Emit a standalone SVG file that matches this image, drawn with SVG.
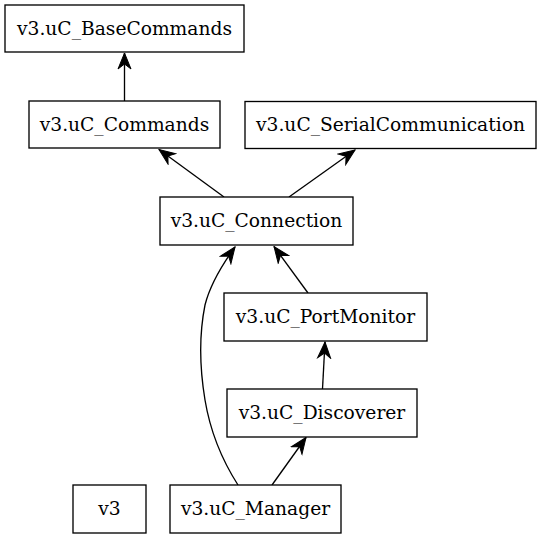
<svg xmlns="http://www.w3.org/2000/svg" width="541" height="539" viewBox="0 0 541 539">
<style>
.n rect{fill:#fff;stroke:#000;stroke-width:1.33}
.n text{font-family:"DejaVu Serif",serif;font-size:18.67px;text-anchor:middle;fill:#000}
#edges path{fill:none;stroke:#000;stroke-width:1.33;marker-end:url(#ah)}
</style>
<defs>
<marker id="ah" markerUnits="userSpaceOnUse" viewBox="-17 -8 18 16" refX="0" refY="0" markerWidth="18" markerHeight="16" orient="auto">
<path d="M0,0 L-16,-6.5 L-11,0 L-16,6.5 Z" fill="#000" stroke="#000" stroke-width="1"/>
</marker>
</defs>
<rect width="541" height="539" fill="#fff"/>
<g id="edges">
<path d="M124.5,101 L124.5,53"/>
<path d="M224,197 L159,149.5"/>
<path d="M289,197 L355,150"/>
<path d="M308,293 L274,246.5"/>
<path d="M238,485 C222,460 210,430 205,400 C200,370 198,340 205,305 C210,285 222,265 235,247"/>
<path d="M322.5,389 L325,342"/>
<path d="M272,485 L306,437.5"/>
</g>
<g id="v3_uC_BaseCommands" class="n"><rect x="5" y="5" width="239" height="47"/><text x="124.5" y="34.5">v3.uC_BaseCommands</text></g>
<g id="v3_uC_Commands" class="n"><rect x="29" y="101" width="191" height="47"/><text x="124.5" y="130.5">v3.uC_Commands</text></g>
<g id="v3_uC_SerialCommunication" class="n"><rect x="245" y="101.5" width="291" height="47"/><text x="390.5" y="131">v3.uC_SerialCommunication</text></g>
<g id="v3_uC_Connection" class="n"><rect x="160" y="197" width="193" height="48"/><text x="256.5" y="227">v3.uC_Connection</text></g>
<g id="v3_uC_PortMonitor" class="n"><rect x="224" y="293" width="203" height="48"/><text x="325.5" y="323">v3.uC_PortMonitor</text></g>
<g id="v3_uC_Discoverer" class="n"><rect x="227" y="389" width="190" height="48"/><text x="322" y="419">v3.uC_Discoverer</text></g>
<g id="v3_uC_Manager" class="n"><rect x="170" y="485" width="171" height="48"/><text x="255.5" y="515">v3.uC_Manager</text></g>
<g id="v3" class="n"><rect x="73" y="485" width="73" height="48"/><text x="109.5" y="515">v3</text></g>
</svg>
